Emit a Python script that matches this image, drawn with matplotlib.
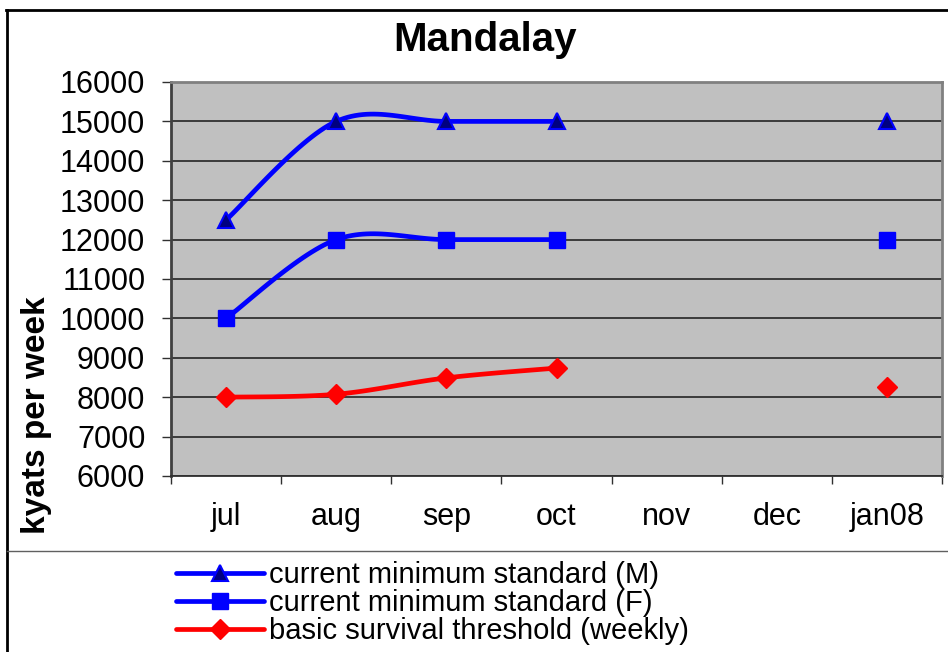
import numpy as np
import matplotlib
matplotlib.use("Agg")
import matplotlib.pyplot as plt
from matplotlib.lines import Line2D

plt.rcParams.update({
    "font.family": ["Liberation Sans", "DejaVu Sans"],
    "font.size": 22,
})

months = ["jul", "aug", "sep", "oct", "nov", "dec", "jan08"]
min_std_m = [12500, 15000, 15000, 15000, np.nan, np.nan, 15000]
min_std_f = [10000, 12000, 12000, 12000, np.nan, np.nan, 12000]
survival = [8000, 8075, 8490, 8740, np.nan, np.nan, 8260]

labels = ["current minimum standard (M)",
          "current minimum standard (F)",
          "basic survival threshold (weekly)"]


def smooth(xs, ys, n=30):
    # excel-like bezier smoothing over each unbroken run of points
    xs = np.asarray(xs, float)
    ys = np.asarray(ys, float)
    out_x, out_y = [], []
    ok = ~np.isnan(ys)
    runs, cur = [], []
    for i in range(len(ys)):
        if ok[i]:
            cur.append(i)
        elif cur:
            runs.append(cur)
            cur = []
    if cur:
        runs.append(cur)
    for r in runs:
        if len(r) < 2:
            continue
        px, py = xs[r], ys[r]
        m = len(r)
        for i in range(m - 1):
            a, b = max(i - 1, 0), min(i + 2, m - 1)
            c1 = (px[i] + (px[i + 1] - px[a]) / 6, py[i] + (py[i + 1] - py[a]) / 6)
            c2 = (px[i + 1] - (px[b] - px[i]) / 6, py[i + 1] - (py[b] - py[i]) / 6)
            t = np.linspace(0, 1, n)
            bx = ((1 - t) ** 3 * px[i] + 3 * (1 - t) ** 2 * t * c1[0]
                  + 3 * (1 - t) * t ** 2 * c2[0] + t ** 3 * px[i + 1])
            by = ((1 - t) ** 3 * py[i] + 3 * (1 - t) ** 2 * t * c1[1]
                  + 3 * (1 - t) * t ** 2 * c2[1] + t ** 3 * py[i + 1])
            out_x += list(bx)
            out_y += list(by)
        out_x.append(np.nan)
        out_y.append(np.nan)
    return out_x, out_y


fig = plt.figure(figsize=(9.48, 6.52), dpi=100)
ax = fig.add_axes([171 / 948, 1 - 476 / 652, 771 / 948, 394 / 652])
ax.set_facecolor("#c0c0c0")

x = np.arange(len(months))
styles = [
    (min_std_m, dict(color="#0000ff", marker="^", ms=12, mfc="#000080", mec="#0000ff", mew=1.5)),
    (min_std_f, dict(color="#0000ff", marker="s", ms=11, mfc="#0000ff", mec="#0000ff")),
    (survival, dict(color="#ff0000", marker="D", ms=10, mfc="#ff0000", mec="#ff0000")),
]
handles = []
for (vals, st), lab in zip(styles, labels):
    sx, sy = smooth(x, vals)
    ax.plot(sx, sy, color=st["color"], lw=3.4, zorder=3, solid_capstyle="round")
    mk = {k: v for k, v in st.items() if k != "color"}
    ax.plot(x, vals, ls="none", zorder=4, **mk)
    handles.append(Line2D([], [], color=st["color"], lw=3.4, solid_capstyle="round", **mk))

ax.set_xlim(-0.5, len(months) - 0.5)
ax.set_ylim(6000, 16000)
ax.set_yticks(np.arange(6000, 16001, 1000))
ax.grid(axis="y", color="#303030", lw=1.3)
ax.set_axisbelow(True)

ax.set_xticks(x)
ax.set_xticklabels(months)
ax.set_xticks(np.arange(-0.5, len(months)), minor=True)
ax.tick_params(axis="x", which="major", length=0, pad=19)
ax.tick_params(axis="x", which="minor", length=6, width=1, color="#303030", direction="out")
ax.tick_params(axis="y", length=6.5, width=1, color="#303030", pad=12)

for side in ["top", "right"]:
    ax.spines[side].set_color("#808080")
    ax.spines[side].set_linewidth(2)
ax.spines["left"].set_color("#404040")
ax.spines["left"].set_linewidth(2)
ax.spines["bottom"].set_color("#303030")
ax.spines["bottom"].set_linewidth(1.3)

fig.text(485 / 948, 1 - 40 / 652, "Mandalay", ha="center", va="center",
         fontsize=29, fontweight="bold")
fig.text(37 / 948, 1 - 415 / 652, "kyats per week", ha="center", va="center",
         rotation=90, fontsize=24, fontweight="bold")

# outer chart border and legend separator
fig.add_artist(Line2D([7 / 948, 7 / 948], [0, 1 - 10 / 652], color="black", lw=2))
fig.add_artist(Line2D([6 / 948, 1], [1 - 10 / 652, 1 - 10 / 652], color="black", lw=2))
fig.add_artist(Line2D([7 / 948, 1], [1 - 551 / 652, 1 - 551 / 652], color="#606060", lw=1))

fig.legend(handles, labels, loc="upper left", bbox_to_anchor=(176 / 948, 1 - 561 / 652),
           frameon=False, fontsize=21, borderpad=0, borderaxespad=0, labelspacing=0,
           handlelength=3.0, handletextpad=0.2)

fig.savefig("out.png", dpi=100)
